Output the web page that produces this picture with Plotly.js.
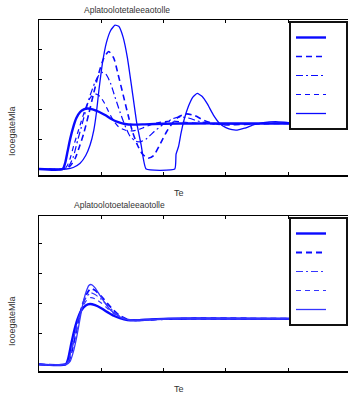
<!DOCTYPE html>
<html><head><meta charset="utf-8">
<script src="https://cdn.plot.ly/plotly-3.0.1.min.js"></script>
<style>html,body{margin:0;padding:0;background:#fff;}</style>
</head><body><div id="chart" style="width:348px;height:394px;"></div>
<script>
// ---- Text ----
const topTitle = "Aplatoolotetaleeaotolle";
const bottomTitle = "Aplatoolotoetaleeaotolle";
const xLabel = "Te";
const yLabel = "IooegateMla";

// ---- Top panel data ----
const topAx = [0,0.38,0.42,0.46,0.50,0.55,0.60,0.66,0.72,0.78,0.86,0.96,1.06,1.16,1.26,1.38,1.52,1.7,2.0,2.5,3.0,4.0,5.0];
const topAy = [0,0,0.2,0.6,1.0,1.4,1.7,1.9,1.99,2.02,1.99,1.91,1.8,1.67,1.57,1.5,1.48,1.49,1.51,1.52,1.52,1.52,1.52];

const topBx = [0,0.40,0.45,0.50,0.56,0.62,0.68,0.74,0.80,0.86,0.92,0.98,1.05,1.12,1.20,1.28,1.38,1.48,1.58,1.70,1.85,2.0,2.15,2.3,2.5,2.8,3.2,4.0,5.0];
const topBy = [0,0,0.1,0.35,0.8,1.2,1.6,1.98,2.3,2.47,2.5,2.42,2.2,1.9,1.6,1.4,1.3,1.27,1.3,1.4,1.52,1.58,1.6,1.57,1.53,1.5,1.51,1.52,1.52];

const topCx = [0,0.41,0.48,0.55,0.62,0.68,0.75,0.82,0.90,0.96,1.02,1.08,1.15,1.22,1.30,1.38,1.46,1.55,1.63,1.72,1.85,2.0,2.15,2.27,2.4,2.55,2.7,2.9,3.2,3.6,5.0];
const topCy = [0,0,0.1,0.4,0.95,1.4,1.95,2.45,2.9,3.12,3.22,3.15,2.85,2.4,1.9,1.45,1.1,0.93,0.91,1.0,1.25,1.5,1.68,1.74,1.7,1.6,1.53,1.49,1.5,1.52,1.52];

const topDx = [0,0.42,0.50,0.58,0.65,0.72,0.80,0.88,0.96,1.04,1.12,1.20,1.27,1.35,1.43,1.50,1.58,1.66,1.75,1.84,1.95,2.05,2.15,2.25,2.37,2.5,2.65,2.8,3.0,3.3,3.7,5.0];
const topDy = [0,0,0.1,0.35,0.75,1.2,1.85,2.55,3.2,3.7,3.92,3.7,3.15,2.48,1.8,1.25,0.8,0.5,0.36,0.45,0.85,1.25,1.55,1.75,1.84,1.78,1.62,1.52,1.47,1.49,1.52,1.52];

const topEx = [0,0.44,0.55,0.66,0.75,0.82,0.88,0.92,0.96,1.02,1.08,1.15,1.22,1.28,1.35,1.42,1.49,1.57,1.64,1.72,2.18,2.20,2.24,2.28,2.33,2.40,2.47,2.54,2.62,2.70,2.80,2.90,3.0,3.1,3.18,3.3,3.45,3.6,3.8,4.0,4.3,5.0];
const topEy = [0,0,0.05,0.19,0.45,0.8,1.3,1.85,2.6,3.55,4.2,4.62,4.8,4.76,4.4,3.7,2.7,1.52,0.8,0,0,0.5,0.75,1.2,1.65,2.1,2.4,2.52,2.42,2.18,1.8,1.52,1.38,1.31,1.3,1.36,1.48,1.55,1.58,1.55,1.52,1.52];

// ---- Bottom panel data ----
const botAx = [0,0.43,0.47,0.52,0.57,0.62,0.68,0.75,0.82,0.9,1.0,1.1,1.2,1.3,1.42,1.55,1.7,2.0,2.5,5.0];
const botAy = [0,0,0.2,0.7,1.15,1.5,1.78,1.94,1.99,1.95,1.85,1.72,1.6,1.52,1.46,1.45,1.47,1.5,1.51,1.5];

const botMidX = [0,0.43,0.48,0.53,0.58,0.63,0.69,0.76,0.83,0.9,1.0,1.1,1.2,1.3,1.42,1.55,1.7,2.0,2.5,5.0];
const botBy = [0,0,0.15,0.6,1.05,1.5,1.85,2.1,2.2,2.16,2.02,1.84,1.67,1.55,1.47,1.45,1.46,1.49,1.51,1.5];
const botCy = [0,0,0.12,0.5,0.95,1.45,1.9,2.22,2.36,2.3,2.14,1.94,1.74,1.58,1.48,1.45,1.46,1.49,1.51,1.5];
const botDy = [0,0,0.1,0.45,0.9,1.4,1.92,2.3,2.5,2.44,2.24,2.0,1.78,1.6,1.48,1.45,1.46,1.49,1.51,1.5];

const botEx = [0,0.44,0.5,0.55,0.6,0.65,0.7,0.75,0.8,0.84,0.9,0.97,1.05,1.12,1.2,1.3,1.4,1.5,1.65,1.9,2.3,5.0];
const botEy = [0,0,0.1,0.4,0.85,1.4,1.95,2.35,2.6,2.63,2.52,2.3,2.05,1.85,1.7,1.56,1.48,1.45,1.46,1.49,1.51,1.5];

const blue = "#0a0aff";
const blueLight = "#3535ff";
const pad = "\u00a0\u00a0\u00a0";

function tr(x, y, xa, ya, leg, width, dash, color, sm){
  return {x:x, y:y, xaxis:xa, yaxis:ya, legend:leg, type:"scatter", mode:"lines", name:pad,
    line:{color:color, width:width, dash:dash, shape:"spline", smoothing:sm||0.6}, hoverinfo:"none"};
}

const data = [
  tr(topAx, topAy, "x", "y", "legend", 2.4, "solid", blue),
  tr(topDx, topDy, "x", "y", "legend", 1.6, "6px,4px", blue),
  tr(topCx, topCy, "x", "y", "legend", 1.2, "7px,3px,2px,3px", blue),
  tr(topBx, topBy, "x", "y", "legend", 1.2, "5px,4px", blue),
  tr(topEx, topEy, "x", "y", "legend", 1.3, "solid", blue, 0.4),
  tr(botAx, botAy, "x2", "y2", "legend2", 2.4, "solid", blue),
  tr(botMidX, botDy, "x2", "y2", "legend2", 1.8, "6px,4px", blue),
  tr(botMidX, botCy, "x2", "y2", "legend2", 1.2, "7px,3px,2px,3px", blueLight),
  tr(botMidX, botBy, "x2", "y2", "legend2", 1.2, "5px,4px", blueLight),
  tr(botEx, botEy, "x2", "y2", "legend2", 1.3, "solid", blueLight)
];

const H = 394, T = 20, B = 23, plotH = H - T - B;
function fy(py){ return (H - B - py) / plotH; }
function fx(px){ return (px - 39) / 309; }

const xax = {range:[0,4.96], tickvals:[1,2,3,4], showticklabels:false, ticks:"inside", ticklen:3,
  tickcolor:"#000", showline:true, linecolor:"#000", linewidth:1.5, mirror:"ticks", showgrid:false, zeroline:false};
const yax = {tickvals:[1,2,3,4], showticklabels:false, ticks:"inside", ticklen:3, tickcolor:"#000",
  showline:true, linecolor:"#000", linewidth:1.5, mirror:false, showgrid:false, zeroline:false};

const legBase = {x:1, xanchor:"right", bgcolor:"#fff", bordercolor:"#111", borderwidth:2,
  font:{size:11, family:"Liberation Sans"}, itemwidth:30, tracegroupgap:0};

function ann(text, px, py, size, angle){
  return {text:text, xref:"paper", yref:"paper", x:fx(px), y:fy(py), xanchor:"center", yanchor:"middle",
    showarrow:false, textangle:angle||0, font:{size:size, color:"#333", family:"Liberation Sans"}};
}

const layout = {
  width:348, height:394, margin:{l:39, r:0, t:T, b:B}, paper_bgcolor:"#fff", plot_bgcolor:"#fff",
  showlegend:true,
  xaxis:Object.assign({}, xax, {anchor:"y"}),
  yaxis:Object.assign({}, yax, {domain:[fy(175),1], range:[-0.2,4.97], anchor:"x"}),
  xaxis2:Object.assign({}, xax, {anchor:"y2"}),
  yaxis2:Object.assign({}, yax, {domain:[0,fy(216)], range:[-0.22,4.89], anchor:"x2"}),
  legend:Object.assign({}, legBase, {y:fy(21), yanchor:"top"}),
  legend2:Object.assign({}, legBase, {y:fy(217), yanchor:"top"}),
  font:{family:"Liberation Sans", color:"#333"},
  annotations:[
    ann(topTitle, 127, 10, 8.5),
    ann(bottomTitle, 119, 205, 8.5),
    ann(xLabel, 179, 193, 9),
    ann(xLabel, 179, 389, 9),
    ann(yLabel, 12, 131, 9, -90),
    ann(yLabel, 12, 321, 9, -90)
  ]
};

Plotly.newPlot("chart", data, layout, {staticPlot:true, displayModeBar:false});
</script>
</body></html>
